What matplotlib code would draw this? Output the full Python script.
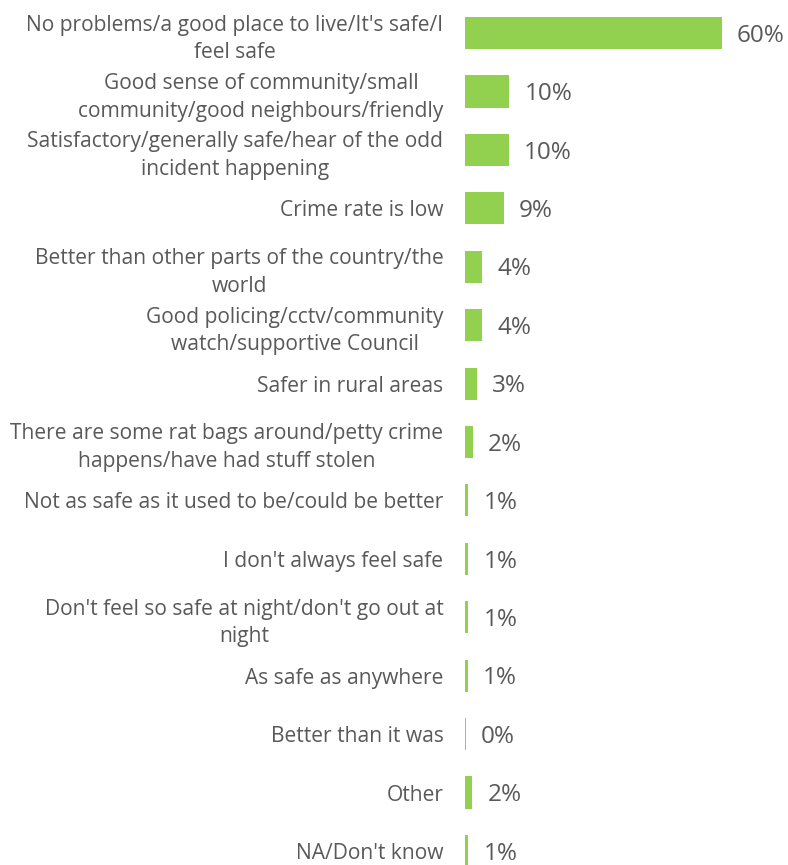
import matplotlib.pyplot as plt

categories = [
    "No problems/a good place to live/It's safe/I\nfeel safe",
    "Good sense of community/small\ncommunity/good neighbours/friendly",
    "Satisfactory/generally safe/hear of the odd\nincident happening",
    "Crime rate is low",
    "Better than other parts of the country/the\nworld",
    "Good policing/cctv/community\nwatch/supportive Council",
    "Safer in rural areas",
    "There are some rat bags around/petty crime\nhappens/have had stuff stolen",
    "Not as safe as it used to be/could be better",
    "I don't always feel safe",
    "Don't feel so safe at night/don't go out at\nnight",
    "As safe as anywhere",
    "Better than it was",
    "Other",
    "NA/Don't know",
]
values = [60, 10.3, 10.2, 9.1, 4.0, 4.0, 2.8, 1.8, 0.8, 0.8, 0.8, 0.7, 0.2, 1.7, 0.8]
value_labels = ["60%", "10%", "10%", "9%", "4%", "4%", "3%", "2%",
                "1%", "1%", "1%", "1%", "0%", "2%", "1%"]

plt.rcParams['font.family'] = ['Open Sans', 'DejaVu Sans']
grey = '#595959'
green = '#92D050'

fig = plt.figure(figsize=(7.88, 8.65), dpi=100)
ax = fig.add_axes([465 / 788, 0, 1 - 465 / 788, 1])

pos = list(range(len(categories)))
bars = ax.barh(pos, values, height=0.55, color=green)

for b, lab in zip(bars, value_labels):
    ax.annotate(lab, (b.get_width(), b.get_y() + b.get_height() / 2),
                xytext=(11, -2), textcoords='offset points',
                va='center', ha='left', fontsize=17.5, color=grey)

ax.set_yticks(pos)
ax.set_yticklabels(categories, fontsize=15.1, color=grey)
for t in ax.get_yticklabels():
    t.set_multialignment('center')
    t.set_linespacing(1.42)
ax.tick_params(axis='y', length=0, pad=15.5)
ax.tick_params(axis='x', bottom=False, labelbottom=False)

ax.set_xlim(0, 75.5)
ax.set_ylim(14.24, -0.565)
for s in ax.spines.values():
    s.set_visible(False)

fig.savefig('out.png', dpi=100)
